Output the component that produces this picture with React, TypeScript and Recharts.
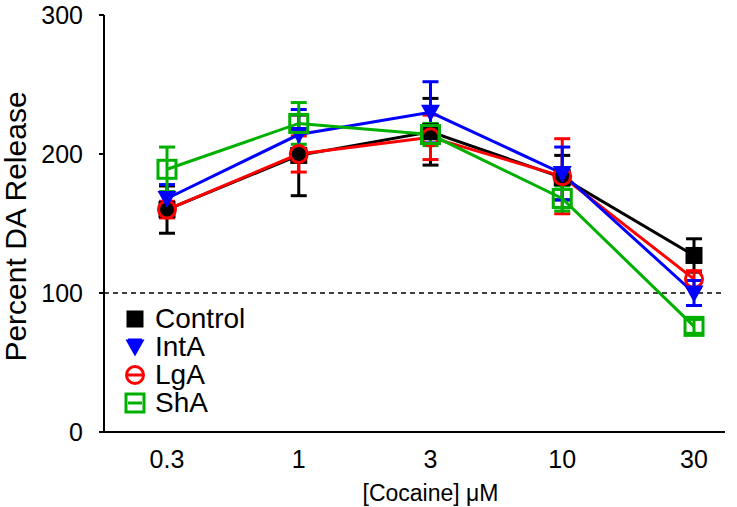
import {
  LineChart,
  Line,
  XAxis,
  YAxis,
  ErrorBar,
  ReferenceLine,
  Legend,
  Label
} from "recharts";

const doses = ["0.3", "1", "3", "10", "30"];
const control = [160, 199, 216, 183, 127];
const controlErr = [17, 29, 24, 16, 12];
const intA = [168, 214, 230, 186, 100];
const intAErr = [10, 18, 22, 19, 9];
const lgA = [160, 200, 212, 184, 110];
const lgAErr = [6, 13, 16, 27, 6];
const shA = [189, 222, 214, 168, 76];
const shAErr = [16, 15, 8, 9, 5];
const yTicks = [0, 100, 200, 300];

const font = '"Liberation Sans", Arial, sans-serif';

const data = doses.map((d, i) => ({
  dose: d,
  control: control[i],
  controlErr: controlErr[i],
  intA: intA[i],
  intAErr: intAErr[i],
  lgA: lgA[i],
  lgAErr: lgAErr[i],
  shA: shA[i],
  shAErr: shAErr[i]
}));

type Shape = "square" | "triangle" | "circle" | "openSquare";

const series: { key: string; name: string; color: string; shape: Shape }[] = [
  { key: "control", name: "Control", color: "#000000", shape: "square" },
  { key: "intA", name: "IntA", color: "#0000ff", shape: "triangle" },
  { key: "lgA", name: "LgA", color: "#ff0000", shape: "circle" },
  { key: "shA", name: "ShA", color: "#00b000", shape: "openSquare" }
];

// draw order in the plot (green ends on top)
const drawOrder = ["control", "lgA", "intA", "shA"];

function marker(shape: Shape, color: string, cx: number, cy: number, key?: string) {
  if (shape === "square")
    return <rect key={key} x={cx - 8.5} y={cy - 8.5} width={17} height={17} fill={color} />;
  if (shape === "triangle")
    return (
      <path
        key={key}
        d={`M${cx - 9.5},${cy - 7.5} L${cx + 9.5},${cy - 7.5} L${cx},${cy + 9.5} Z`}
        fill={color}
      />
    );
  if (shape === "circle")
    return <circle key={key} cx={cx} cy={cy} r={8.5} fill="none" stroke={color} strokeWidth={3} />;
  return (
    <rect
      key={key}
      x={cx - 9}
      y={cy - 9}
      width={18}
      height={18}
      fill="none"
      stroke={color}
      strokeWidth={3}
    />
  );
}

function LegendBox() {
  return (
    <div style={{ fontFamily: font, fontSize: 28, color: "#000" }}>
      {series.map((s) => (
        <div key={s.key} style={{ display: "flex", alignItems: "center", height: 28 }}>
          <svg width={22} height={22} style={{ marginRight: 9 }}>
            {marker(s.shape, s.color, 11, 11)}
            {s.shape !== "square" && (
              <line x1={4} x2={18} y1={s.shape === "triangle" ? 4 : 11} y2={s.shape === "triangle" ? 4 : 11} stroke={s.color} strokeWidth={3} />
            )}
          </svg>
          <span style={{ lineHeight: "28px" }}>{s.name}</span>
        </div>
      ))}
    </div>
  );
}

function App() {
  return (
    <div style={{ position: "absolute", left: 0, top: 0 }}>
      <LineChart
        width={737}
        height={507}
        data={data}
        margin={{ top: 15, right: 12, left: 0, bottom: 0 }}
      >
        <XAxis
          dataKey="dose"
          height={75}
          padding={{ left: 63, right: 31 }}
          tickLine={false}
          tickSize={0}
          tickMargin={18}
          axisLine={{ stroke: "#000", strokeWidth: 2 }}
          tick={{ fill: "#000", fontSize: 25, fontFamily: font }}
        >
          <Label
            value="[Cocaine] μM"
            position="insideBottom"
            offset={6}
            dx={16}
            style={{ fill: "#000", fontSize: 23, fontFamily: font }}
          />
        </XAxis>
        <YAxis
          width={104}
          domain={[0, 300]}
          ticks={yTicks}
          tickSize={5}
          tickMargin={16}
          axisLine={{ stroke: "#000", strokeWidth: 2 }}
          tickLine={{ stroke: "#000", strokeWidth: 2 }}
          tick={{ fill: "#000", fontSize: 25, fontFamily: font }}
        >
          <Label
            value="Percent DA Release"
            angle={-90}
            position="insideLeft"
            offset={15}
            dy={3}
            style={{ textAnchor: "middle", fill: "#000", fontSize: 30, fontFamily: font }}
          />
        </YAxis>
        <ReferenceLine y={100} stroke="#000" strokeWidth={1.5} strokeDasharray="5 4" />
        <Legend
          layout="vertical"
          align="center"
          verticalAlign="middle"
          wrapperStyle={{ left: 124, top: 305, width: 150 }}
          content={() => <LegendBox />}
        />
        {drawOrder.map((k) => {
          const s = series.find((x) => x.key === k)!;
          return (
            <Line
              key={s.key}
              dataKey={s.key}
              name={s.name}
              type="linear"
              stroke={s.color}
              strokeWidth={3}
              isAnimationActive={false}
              dot={(p: any) => marker(s.shape, s.color, p.cx, p.cy, `${s.key}-${p.index}`)}
              activeDot={false}
            >
              <ErrorBar
                dataKey={`${s.key}Err`}
                direction="y"
                width={8}
                stroke={s.color}
                strokeWidth={3}
              />
            </Line>
          );
        })}
      </LineChart>
    </div>
  );
}

export default App;
